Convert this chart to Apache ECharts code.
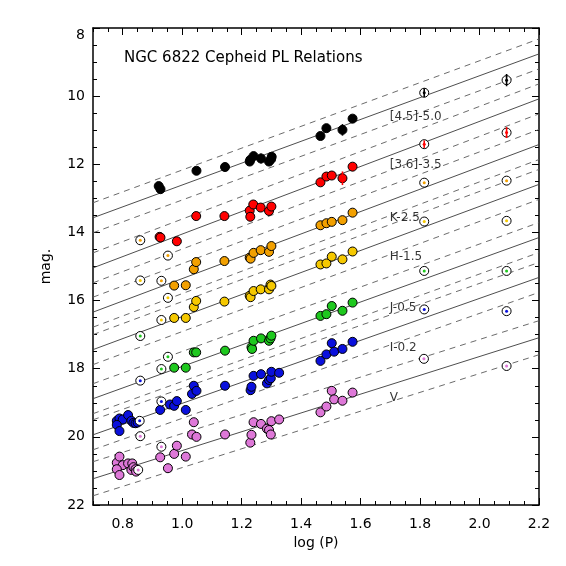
<!DOCTYPE html>
<html><head><meta charset="utf-8">
<script src="https://cdn.jsdelivr.net/npm/echarts@6/dist/echarts.min.js"></script>
<style>html,body{margin:0;padding:0;background:#fff}#c{width:566px;height:566px}</style>
</head><body><div id="c"></div>
<script>
const FONT = 'DejaVu Sans';

// ---- bands ----
const bandNames = ['[4.5]-5.0', '[3.6]-3.5', 'K-2.5', 'H-1.5', 'J-0.5', 'I-0.2', 'V'];
const bandColors = ['#000000', '#ff0000', '#f2a000', '#f5c800', '#1ec81e', '#0a10dc', '#de78d8'];

// PL relation (solid line): magnitude at log P = 0.7 and at log P = 2.2
const relAt07 = [13.57, 15.04, 16.34, 17.44, 18.88, 19.94, 21.23];
const relAt22 = [8.76, 10.08, 11.42, 12.59, 14.15, 15.32, 17.09];
// half width of dashed bounds (mag)
const relHalfWidth = [0.44, 0.44, 0.44, 0.44, 0.44, 0.44, 0.50];

// ---- Cepheids used (filled) [logP, mag] ----
const ceph45 = [[0.921,12.64],[0.927,12.73],[1.048,12.19],[1.144,12.08],[1.227,11.92],[1.229,11.87],[1.240,11.76],[1.265,11.83],[1.292,11.92],[1.299,11.85],[1.301,11.78],[1.465,11.17],[1.485,10.94],[1.539,10.99],[1.573,10.66]];
const ceph36 = [[0.924,14.13],[0.927,14.15],[0.982,14.26],[1.047,13.52],[1.142,13.52],[1.227,13.36],[1.229,13.54],[1.239,13.18],[1.264,13.27],[1.292,13.37],[1.300,13.24],[1.465,12.53],[1.485,12.36],[1.503,12.33],[1.539,12.41],[1.573,12.07]];
const cephK = [[0.973,15.56],[1.012,15.55],[1.039,15.08],[1.047,14.87],[1.142,14.84],[1.227,14.74],[1.230,14.77],[1.240,14.60],[1.264,14.52],[1.292,14.57],[1.300,14.40],[1.465,13.79],[1.485,13.73],[1.503,13.69],[1.539,13.64],[1.573,13.42]];
const cephH = [[0.973,16.51],[1.012,16.51],[1.039,16.19],[1.047,16.01],[1.142,16.03],[1.227,15.86],[1.230,15.90],[1.240,15.72],[1.264,15.67],[1.292,15.67],[1.297,15.53],[1.300,15.57],[1.465,14.94],[1.485,14.91],[1.503,14.71],[1.539,14.79],[1.573,14.56]];
const cephJ = [[0.973,17.97],[1.012,17.97],[1.039,17.52],[1.047,17.52],[1.144,17.47],[1.233,17.37],[1.235,17.42],[1.240,17.18],[1.265,17.11],[1.292,17.18],[1.297,17.11],[1.300,17.03],[1.465,16.45],[1.485,16.40],[1.503,16.16],[1.539,16.30],[1.573,16.06]];
const cephI = [[0.780,19.53],[0.789,19.46],[0.800,19.49],[0.780,19.65],[0.789,19.83],[0.818,19.36],[0.829,19.53],[0.836,19.59],[0.843,19.60],[0.850,19.58],[0.926,19.21],[0.959,19.05],[0.973,19.09],[0.982,18.95],[1.012,19.21],[1.033,18.74],[1.039,18.50],[1.048,18.65],[1.144,18.50],[1.230,18.63],[1.233,18.53],[1.240,18.21],[1.265,18.16],[1.285,18.43],[1.292,18.33],[1.298,18.28],[1.300,18.09],[1.326,18.12],[1.465,17.77],[1.485,17.58],[1.503,17.25],[1.511,17.50],[1.539,17.42],[1.573,17.21]];
const cephV = [[0.780,20.76],[0.789,20.58],[0.800,20.83],[0.780,20.95],[0.789,21.12],[0.818,20.78],[0.832,20.78],[0.829,20.97],[0.836,20.89],[0.843,20.95],[0.845,21.02],[0.926,20.60],[0.952,20.92],[0.973,20.50],[0.982,20.26],[1.012,20.58],[1.033,19.93],[1.039,19.57],[1.048,20.00],[1.144,19.93],[1.229,20.17],[1.233,19.94],[1.240,19.57],[1.265,19.62],[1.285,19.76],[1.292,19.80],[1.298,19.93],[1.300,19.54],[1.326,19.49],[1.465,19.28],[1.485,19.11],[1.503,18.65],[1.511,18.90],[1.539,18.94],[1.573,18.70]];

// ---- Cepheids not used (open) [logP, mag] ----
const open45 = [[1.814,9.90],[2.091,9.53]];
const open36 = [[1.814,11.41],[2.091,11.07]];
const openK = [[0.859,14.23],[0.930,15.42],[0.952,14.68],[1.814,12.54],[2.091,12.48]];
const openH = [[0.859,15.41],[0.930,16.57],[0.952,15.92],[1.814,13.68],[2.091,13.66]];
const openJ = [[0.859,17.04],[0.930,18.01],[0.952,17.65],[1.814,15.13],[2.091,15.13]];
const openI = [[0.857,19.53],[0.859,18.35],[0.930,18.96],[1.814,16.26],[2.091,16.31]];
const openV = [[0.852,20.97],[0.859,19.98],[0.930,20.29],[1.813,17.71],[2.091,17.92]];

// ---- error bars [logP, mag, err] ----
const err45 = [[1.265,11.83,0.15],[1.539,10.99,0.17],[1.814,9.90,0.13],[2.091,9.53,0.18]];
const err36 = [[1.539,12.41,0.20],[1.814,11.41,0.11],[2.091,11.07,0.16]];

// ---- ticks ----
const xMajorTicks = [0.8, 1.0, 1.2, 1.4, 1.6, 1.8, 2.0, 2.2];
const xMinorTicks = [0.70,0.75,0.85,0.90,0.95,1.05,1.10,1.15,1.25,1.30,1.35,1.45,1.50,1.55,1.65,1.70,1.75,1.85,1.90,1.95,2.05,2.10,2.15];

// ---- annotation placement (log P, mag) ----
const bandLabelAt = [[1.698,10.61],[1.698,12.02],[1.698,13.58],[1.698,14.72],[1.698,16.22],[1.698,17.38],[1.698,18.85]];

const filled = [ceph45, ceph36, cephK, cephH, cephJ, cephI, cephV];
const opens = [open45, open36, openK, openH, openJ, openI, openV];

const series = [];
bandNames.forEach((n, i) => {
  const L = relAt07[i], R = relAt22[i], w = relHalfWidth[i];
  [[0, 'solid'], [-w, 'dash'], [w, 'dash']].forEach(([o, t]) => {
    series.push({
      type: 'line', silent: true, symbol: 'none', animation: false, z: 1,
      data: [[0.7, L + o], [2.2, R + o]],
      lineStyle: t === 'solid'
        ? { color: '#3a3a3a', width: 0.9, type: 'solid' }
        : { color: '#5a5a5a', width: 0.9, type: [6, 5] }
    });
  });
});
filled.forEach((pts, i) => {
  series.push({
    type: 'scatter', data: pts, symbol: 'circle', symbolSize: 9, z: 3, animation: false,
    itemStyle: { color: bandColors[i], borderColor: '#000', borderWidth: 1, opacity: 1 }
  });
});
opens.forEach((pts, i) => {
  series.push({
    type: 'scatter', data: pts, symbol: 'circle', symbolSize: 9, z: 3, animation: false,
    itemStyle: { color: '#fff', borderColor: '#000', borderWidth: 1, opacity: 1 }
  });
  series.push({
    type: 'scatter', data: pts, symbol: 'circle', symbolSize: 3, z: 4, animation: false,
    itemStyle: { color: bandColors[i], opacity: 1 }
  });
});
[[err45, bandColors[0]], [err36, bandColors[1]]].forEach(([errs, col]) => {
  series.push({
    type: 'custom', data: errs, z: 5, animation: false, encode: { x: 0, y: 1 },
    renderItem: (params, api) => {
      const x = api.value(0), m = api.value(1), e = api.value(2);
      const p1 = api.coord([x, m - e]), p2 = api.coord([x, m + e]);
      return { type: 'line', shape: { x1: p1[0], y1: p1[1], x2: p2[0], y2: p2[1] },
               style: { stroke: col, lineWidth: 1.6 } };
    }
  });
});
series.push({
  type: 'scatter', symbolSize: 0, z: 6, animation: false, silent: true,
  data: bandLabelAt.map((p, i) => ({ value: p, name: bandNames[i] })),
  label: { show: true, position: 'right', distance: 0, formatter: p => p.name,
           fontFamily: FONT, fontSize: 12, color: '#000' }
});

const axisLineStyle = { color: '#000', width: 1.5 };
const xBase = { type: 'value', min: 0.7, max: 2.2, splitLine: { show: false } };
const yBase = { type: 'value', min: 8, max: 22, interval: 2, inverse: true, splitLine: { show: false } };

const option = {
  backgroundColor: '#fff',
  animation: false,
  title: {
    text: 'NGC 6822 Cepheid PL Relations', left: 124, top: 51, padding: 0,
    textStyle: { fontFamily: FONT, fontSize: 15, fontWeight: 'normal', color: '#000' }
  },
  grid: { left: 93, right: 27, top: 28, bottom: 61, containLabel: false, outerBoundsMode: 'none' },
  xAxis: [
    Object.assign({}, xBase, {
      position: 'bottom', name: 'log (P)', nameLocation: 'middle', nameGap: 30,
      nameTextStyle: { fontFamily: FONT, fontSize: 14, color: '#000' },
      axisLine: { show: true, onZero: false, lineStyle: axisLineStyle },
      axisTick: { show: true, inside: true, length: 7, customValues: xMajorTicks, lineStyle: { color: '#000', width: 1 } },
      axisLabel: { show: true, customValues: xMajorTicks, margin: 12, formatter: v => v.toFixed(1),
                   fontFamily: FONT, fontSize: 14, color: '#000' }
    }),
    Object.assign({}, xBase, {
      position: 'bottom', axisLine: { show: false, onZero: false },
      axisTick: { show: true, inside: true, length: 4, customValues: xMinorTicks, lineStyle: { color: '#000', width: 1 } },
      axisLabel: { show: false }
    }),
    Object.assign({}, xBase, {
      position: 'top', axisLine: { show: true, onZero: false, lineStyle: axisLineStyle },
      axisTick: { show: true, inside: true, length: 7, customValues: xMajorTicks, lineStyle: { color: '#000', width: 1 } },
      axisLabel: { show: false }
    }),
    Object.assign({}, xBase, {
      position: 'top', axisLine: { show: false, onZero: false },
      axisTick: { show: true, inside: true, length: 4, customValues: xMinorTicks, lineStyle: { color: '#000', width: 1 } },
      axisLabel: { show: false }
    })
  ],
  yAxis: [
    Object.assign({}, yBase, {
      position: 'left', name: 'mag.', nameLocation: 'middle', nameGap: 40, nameRotate: 90,
      nameTextStyle: { fontFamily: FONT, fontSize: 14, color: '#000' },
      axisLine: { show: true, onZero: false, lineStyle: axisLineStyle },
      axisTick: { show: true, inside: true, length: 7, lineStyle: { color: '#000', width: 1 } },
      minorTick: { show: true, splitNumber: 4, length: 4, lineStyle: { color: '#000', width: 1 } },
      axisLabel: { show: true, margin: 8, fontFamily: FONT, fontSize: 14, color: '#000',
                   verticalAlignMinLabel: 'top' }
    }),
    Object.assign({}, yBase, {
      position: 'right',
      axisLine: { show: true, onZero: false, lineStyle: axisLineStyle },
      axisTick: { show: true, inside: true, length: 7, lineStyle: { color: '#000', width: 1 } },
      minorTick: { show: true, splitNumber: 4, length: 4, lineStyle: { color: '#000', width: 1 } },
      axisLabel: { show: false }
    })
  ],
  series: series
};

const chart = echarts.init(document.getElementById('c'), null, { renderer: 'canvas' });
chart.setOption(option);
</script>
</body></html>
